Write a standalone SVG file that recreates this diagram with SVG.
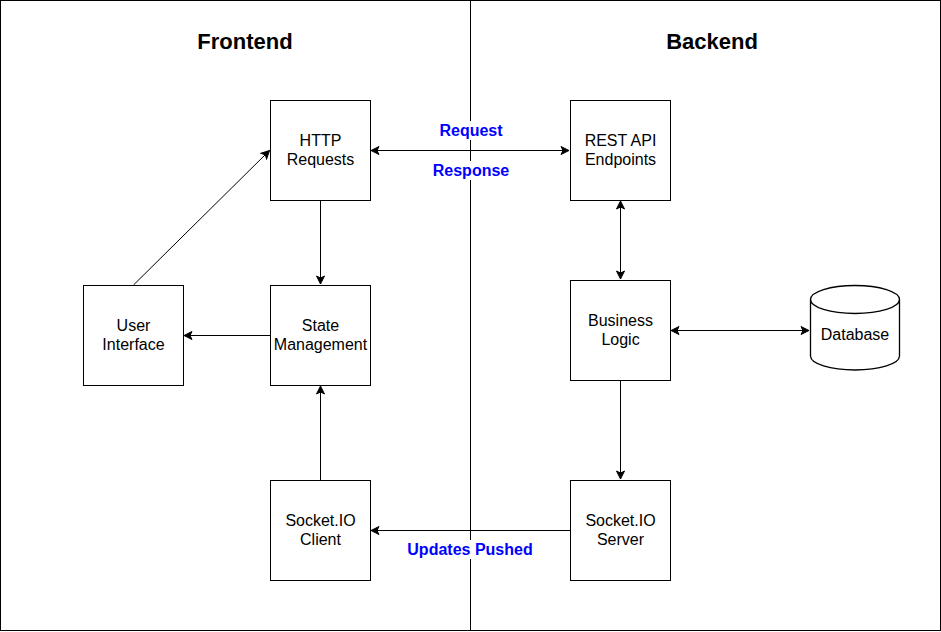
<svg xmlns="http://www.w3.org/2000/svg" width="941" height="632" viewBox="0 0 941 632">
<style>
.box{fill:#fff;stroke:#000;stroke-width:1}
.t{font-family:"Liberation Sans",Arial,sans-serif;font-size:16px;fill:#000;text-anchor:middle}
.h{font-family:"Liberation Sans",Arial,sans-serif;font-size:22px;font-weight:bold;fill:#000;text-anchor:middle}
.lbl{font-family:"Liberation Sans",Arial,sans-serif;font-size:16px;font-weight:bold;fill:#0000ff;text-anchor:middle}
.c{fill:none;stroke:#000;stroke-width:1}
</style>
<defs>
<marker id="ah" viewBox="0 0 10 10" refX="9" refY="5" markerWidth="10" markerHeight="10" markerUnits="userSpaceOnUse" orient="auto-start-reverse">
<path d="M1,1 L9,5 L1,9 L3,5 Z" fill="#000" stroke="#000" stroke-width="1"/>
</marker>
</defs>
<rect width="941" height="632" fill="#fff"/>
<g id="frame">
<rect x="0.5" y="0.5" width="940" height="630" fill="none" stroke="#000"/>
<line x1="470.5" y1="0.5" x2="470.5" y2="630.5" stroke="#000"/>
</g>
<g id="titles">
<text class="h" x="245" y="49">Frontend</text>
<text class="h" x="712" y="49">Backend</text>
</g>
<g id="connectors">
<line class="c" x1="371" y1="150.5" x2="569" y2="150.5" marker-start="url(#ah)" marker-end="url(#ah)"/>
<line class="c" x1="620.5" y1="201" x2="620.5" y2="279" marker-start="url(#ah)" marker-end="url(#ah)"/>
<line class="c" x1="671" y1="330.5" x2="809" y2="330.5" marker-start="url(#ah)" marker-end="url(#ah)"/>
<line class="c" x1="620.5" y1="380" x2="620.5" y2="479" marker-end="url(#ah)"/>
<line class="c" x1="570" y1="530.5" x2="371" y2="530.5" marker-end="url(#ah)"/>
<line class="c" x1="320.5" y1="480" x2="320.5" y2="386" marker-end="url(#ah)"/>
<line class="c" x1="320.5" y1="200" x2="320.5" y2="284" marker-end="url(#ah)"/>
<line class="c" x1="270" y1="335.5" x2="184" y2="335.5" marker-end="url(#ah)"/>
<line class="c" x1="133.5" y1="285" x2="269.5" y2="150.5" marker-end="url(#ah)"/>
<rect x="436" y="121" width="70" height="19" fill="#fff"/>
<text class="lbl" x="471" y="136">Request</text>
<rect x="430" y="161" width="82" height="19" fill="#fff"/>
<text class="lbl" x="471" y="176">Response</text>
<rect x="405" y="540" width="130" height="19" fill="#fff"/>
<text class="lbl" x="470" y="555">Updates Pushed</text>
</g>
<g id="http">
<rect class="box" x="270.5" y="100.5" width="100" height="100"/>
<text class="t" x="320.5" y="146">HTTP</text>
<text class="t" x="320.5" y="165">Requests</text>
</g>
<g id="rest">
<rect class="box" x="570.5" y="100.5" width="100" height="100"/>
<text class="t" x="620.5" y="146">REST API</text>
<text class="t" x="620.5" y="165">Endpoints</text>
</g>
<g id="ui">
<rect class="box" x="83.5" y="285.5" width="100" height="100"/>
<text class="t" x="133.5" y="331">User</text>
<text class="t" x="133.5" y="350">Interface</text>
</g>
<g id="state">
<rect class="box" x="270.5" y="285.5" width="100" height="100"/>
<text class="t" x="320.5" y="331">State</text>
<text class="t" x="320.5" y="350">Management</text>
</g>
<g id="logic">
<rect class="box" x="570.5" y="280.5" width="100" height="100"/>
<text class="t" x="620.5" y="326">Business</text>
<text class="t" x="620.5" y="345">Logic</text>
</g>
<g id="client">
<rect class="box" x="270.5" y="480.5" width="100" height="100"/>
<text class="t" x="320.5" y="526">Socket.IO</text>
<text class="t" x="320.5" y="545">Client</text>
</g>
<g id="server">
<rect class="box" x="570.5" y="480.5" width="100" height="100"/>
<text class="t" x="620.5" y="526">Socket.IO</text>
<text class="t" x="620.5" y="545">Server</text>
</g>
<g id="database">
<path d="M810.5,299.5 A44.5,14 0 0 1 899.5,299.5 L899.5,356 A44.5,14 0 0 1 810.5,356 Z" fill="#fff" stroke="#000" stroke-width="1.3"/>
<path d="M810.5,299.5 A44.5,14 0 0 0 899.5,299.5" fill="none" stroke="#000" stroke-width="1.3"/>
<text class="t" x="855" y="340">Database</text>
</g>
</svg>
